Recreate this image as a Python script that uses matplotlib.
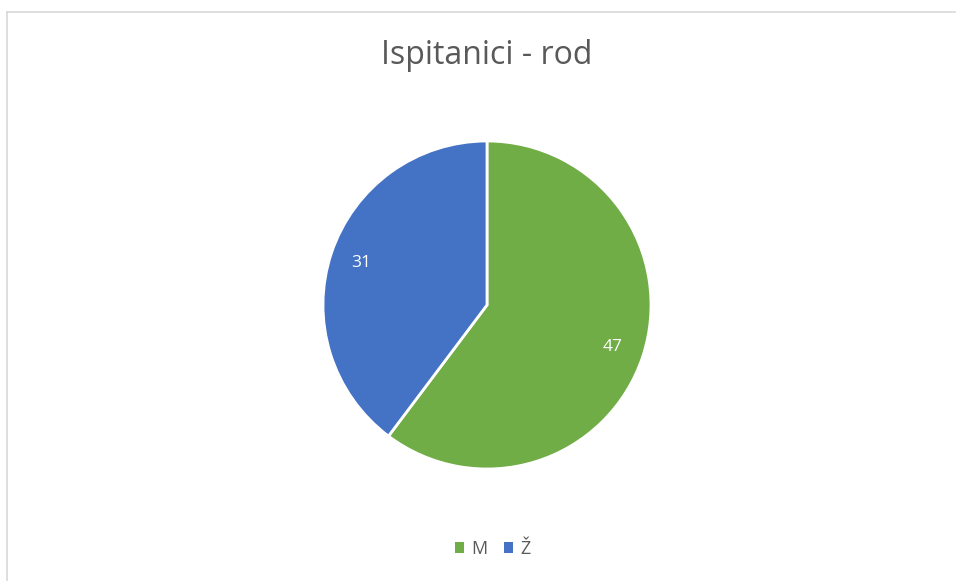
import matplotlib.pyplot as plt
from matplotlib.lines import Line2D
from matplotlib.patches import Patch

# data
labels = ["M", "Ž"]
values = [47, 31]
colors = ["#70AD47", "#4472C4"]

plt.rcParams["font.family"] = ["Open Sans", "DejaVu Sans"]

fig = plt.figure(figsize=(9.56, 5.81), dpi=100)

# chart frame (only top and left edges visible)
fig.add_artist(Line2D([7 / 956, 1.0], [1 - 12 / 581, 1 - 12 / 581], color="#D9D9D9", lw=1.2))
fig.add_artist(Line2D([7 / 956, 7 / 956], [0.0, 1 - 12 / 581], color="#D9D9D9", lw=1.2))

ax = fig.add_axes([323 / 956, 112 / 581, 328 / 956, 328 / 581])
wedges, texts = ax.pie(values, colors=colors, startangle=90, counterclock=False,
                       wedgeprops=dict(edgecolor="white", linewidth=2),
                       labels=[str(v) for v in values], labeldistance=0.81,
                       textprops=dict(color="white", fontsize=12.5))
for t in texts:
    t.set_horizontalalignment("center")
    t.set_verticalalignment("center")
ax.set_xlim(-1, 1)
ax.set_ylim(-1, 1)
ax.set_aspect("equal")

fig.text(487 / 956, 1 - 56 / 581, "Ispitanici - rod", ha="center", va="center",
         fontsize=23, color="#595959")

handles = [Patch(facecolor=c, edgecolor="none") for c in colors]
fig.legend(handles, labels, loc="center", bbox_to_anchor=(493 / 956, 1 - 549 / 581),
           ncol=2, frameon=False, fontsize=13, handlelength=0.5, handleheight=0.5,
           handletextpad=0.4, columnspacing=0.9, labelcolor="#595959")

fig.savefig("out.png", dpi=100)
